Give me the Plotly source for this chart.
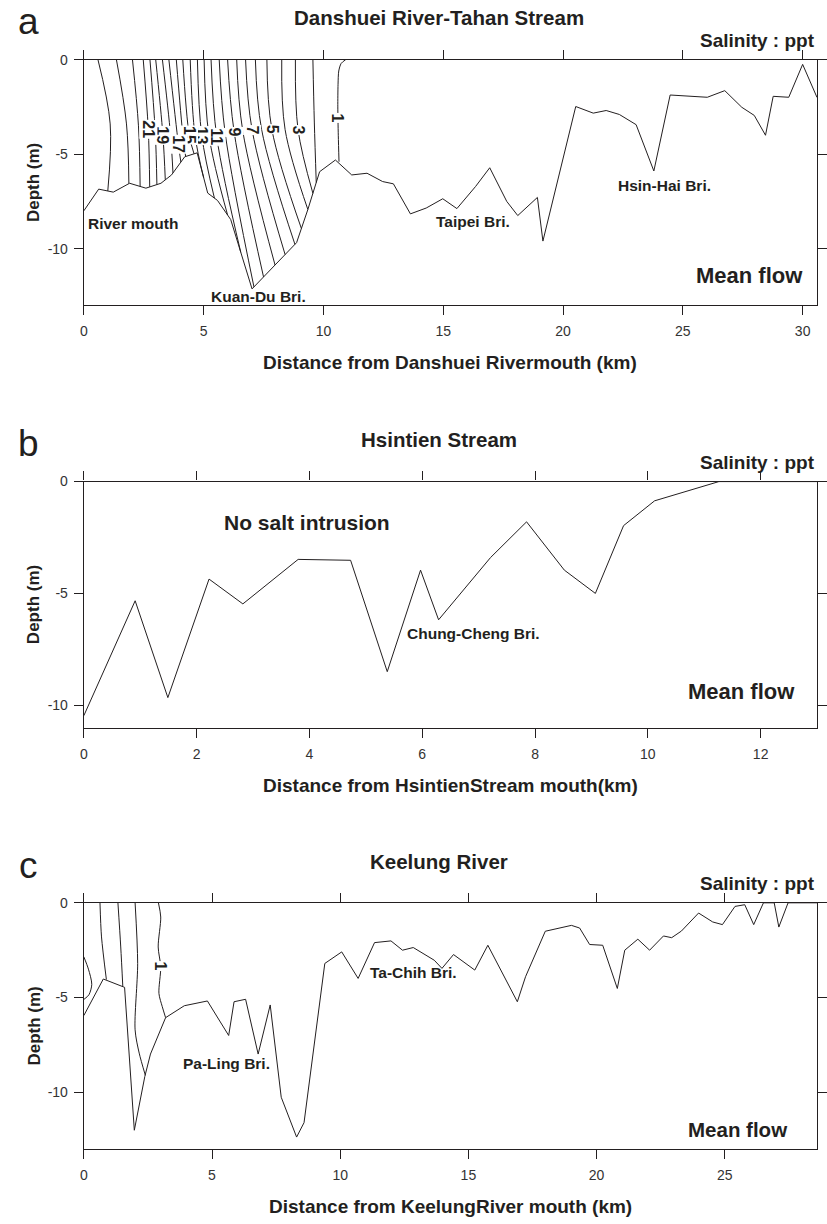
import numpy as np
import plotly.graph_objects as go

FIG_W, FIG_H = 827, 1224
FONT = "Liberation Sans, Arial, sans-serif"
INK = "#231f20"

# ---------------- Panel a: Danshuei River-Tahan Stream ----------------
A_BED_KM = [0.0, 0.62, 1.23, 1.91, 2.59, 3.22, 3.66, 4.21, 4.73, 5.17,
            5.58, 6.13, 7.02, 8.88, 9.35, 9.84, 10.50, 11.18, 11.82, 12.47,
            12.92, 13.47, 13.63, 14.29, 14.98, 15.57, 16.35, 16.94, 17.65, 18.11,
            18.93, 19.16, 20.53, 21.26, 21.80, 22.35, 23.05, 23.79, 24.47, 26.02,
            26.75, 27.46, 27.98, 28.45, 28.77, 29.42, 30.0, 30.6]
A_BED_DEPTH = [-8.0, -6.85, -7.01, -6.54, -6.80, -6.54, -6.10, -5.14, -4.93, -7.06,
               -7.45, -8.46, -12.13, -9.68, -7.93, -5.93, -5.31, -6.10, -6.01, -6.45,
               -6.57, -7.76, -8.16, -7.85, -7.36, -7.88, -6.71, -5.72, -7.50, -8.25,
               -7.29, -9.60, -2.48, -2.83, -2.69, -2.90, -3.44, -5.89, -1.87, -1.99,
               -1.64, -2.52, -2.95, -4.00, -1.94, -1.99, -0.25, -2.0]

# isohalines 2..24 ppt: surface crossing, one interior point, bed crossing
A_ISO_LEVEL = list(range(2, 25))
A_ISO_TOP_KM = [9.56, 8.83, 8.26, 7.64, 7.16, 6.75, 6.38, 6.00, 5.65, 5.31, 5.02, 4.74,
                4.44, 4.13, 3.86, 3.55, 3.28, 3.00, 2.76, 2.48, 2.03, 1.36, 0.59]
A_ISO_MID_KM = [9.62, 8.94, 8.40, 7.85, 7.42, 7.02, 6.63, 6.27, 5.90, 5.55, 5.22, 4.92,
                4.64, 4.40, 4.15, 3.95, 3.62, 3.30, 2.98, 2.69, 2.28, 1.78, 1.10]
A_ISO_MID_DEPTH = [-3.3, -3.7, -3.7, -3.7, -3.7, -3.7, -3.75, -3.8, -3.9, -4.1, -4.0, -4.0,
                   -4.0, -4.0, -4.2, -4.5, -4.0, -4.0, -3.8, -3.7, -3.5, -3.4, -3.4]
A_ISO_BED_KM = [9.70, 9.56, 9.35, 9.08, 8.81, 8.40, 7.98, 7.50, 7.10, 6.55, 6.00, 5.45,
                5.00, 4.60, 4.25, 4.05, 3.72, 3.40, 3.05, 2.75, 2.35, 1.88, 1.00]
# the 1 ppt isohaline (rounded near the surface)
A_ISO1_KM = [10.93, 10.74, 10.64, 10.61, 10.60, 10.62, 10.65]
A_ISO1_DEPTH = [0.0, -0.2, -0.6, -1.3, -2.5, -4.0, -5.40]

A_LABEL_TEXT = ["1", "3", "5", "7", "9", "11", "13", "15", "17", "19", "21"]
A_LABEL_KM = [10.60, 8.94, 7.85, 7.02, 6.27, 5.55, 4.92, 4.40, 3.95, 3.30, 2.69]
A_LABEL_DEPTH = [-3.1, -3.7, -3.7, -3.7, -3.8, -4.1, -4.0, -4.0, -4.5, -4.0, -3.7]

# ---------------- Panel b: Hsintien Stream ----------------
B_BED_KM = [0.0, 0.91, 1.49, 2.22, 2.82, 3.80, 4.73, 5.38, 5.97, 6.29,
            7.21, 7.85, 8.52, 9.07, 9.57, 10.12, 11.26, 13.0]
B_BED_DEPTH = [-10.47, -5.33, -9.66, -4.36, -5.47, -3.48, -3.52, -8.50, -3.96, -6.18,
               -3.40, -1.80, -3.96, -5.0, -1.97, -0.86, 0.0, 0.0]

# ---------------- Panel c: Keelung River ----------------
C_BED_KM = [0.0, 0.76, 1.59, 1.97, 2.38, 2.60, 3.19, 3.92, 4.82, 5.65,
            5.86, 6.31, 6.80, 7.27, 7.70, 8.30, 8.59, 9.40, 10.06, 10.70,
            11.34, 11.98, 12.43, 12.85, 13.67, 13.97, 14.42, 15.25, 15.76, 16.91,
            17.23, 18.0, 19.02, 19.34, 19.73, 20.24, 20.81, 21.10, 21.61, 22.07,
            22.61, 22.93, 23.31, 23.98, 24.53, 24.91, 25.40, 25.78, 26.13, 26.51,
            26.93, 27.11, 27.47, 28.6]
C_BED_DEPTH = [-5.95, -4.02, -4.46, -12.0, -9.16, -7.98, -6.06, -5.43, -5.18, -7.0,
               -5.22, -5.09, -7.98, -5.39, -10.26, -12.36, -11.6, -3.20, -2.59, -3.99,
               -2.10, -2.01, -2.50, -2.36, -3.03, -3.46, -2.73, -3.55, -2.24, -5.22,
               -3.90, -1.50, -1.19, -1.33, -2.20, -2.24, -4.52, -2.50, -1.92, -2.50,
               -1.75, -1.84, -1.49, -0.54, -1.01, -1.15, -0.19, -0.10, -1.15, 0.0,
               0.0, -1.28, 0.0, 0.0]

C_ISO1_KM = [2.91, 3.00, 2.90, 3.00, 2.93, 3.06, 3.19]
C_ISO1_DEPTH = [0.0, -0.75, -2.33, -3.38, -4.78, -5.48, -6.06]
C_ISO2_KM = [2.00, 2.10, 2.00, 2.16, 2.40]
C_ISO2_DEPTH = [0.0, -3.2, -6.7, -7.93, -9.10]
C_ISO3_KM = [1.33, 1.44, 1.52]
C_ISO3_DEPTH = [0.0, -2.33, -4.40]
C_ISO4_KM = [0.63, 0.69, 0.88]
C_ISO4_DEPTH = [0.0, -1.8, -4.05]
C_ISO5_KM = [0.0, 0.18, 0.31, 0.20, 0.0]
C_ISO5_DEPTH = [-2.85, -3.5, -4.3, -4.85, -5.10]
C_LABEL_KM, C_LABEL_DEPTH = 3.0, -3.35

# panel frames in pixels (top, bottom) and x extents
PLOT_L, PLOT_R = 81, 825
PANELS = [
    dict(top=52.0, bottom=299.3, xmax=30.6, ymin=-13, xt=list(range(0, 31, 5))),
    dict(top=476.7, bottom=724.3, xmax=13.0, ymin=-11, xt=list(range(0, 13, 2))),
    dict(top=900.7, bottom=1148.7, xmax=28.6, ymin=-13, xt=list(range(0, 26, 5))),
]
TITLES = ["Danshuei River-Tahan Stream", "Hsintien Stream", "Keelung River"]
LETTERS = ["a", "b", "c"]
XTITLES = ["Distance from Danshuei Rivermouth (km)",
           "Distance from HsintienStream mouth(km)",
           "Distance from KeelungRiver mouth (km)"]


def px(x):
    return x / FIG_W


def py(y):
    return 1 - y / FIG_H


fig = go.Figure()
line_style = dict(color=INK, width=1)

# bed profiles
for i, (bx, bd) in enumerate([(A_BED_KM, A_BED_DEPTH), (B_BED_KM, B_BED_DEPTH),
                              (C_BED_KM, C_BED_DEPTH)]):
    ax = "" if i == 0 else str(i + 1)
    fig.add_trace(go.Scatter(x=bx, y=bd, mode="lines", line=line_style,
                             xaxis="x" + ax, yaxis="y" + ax, hoverinfo="skip"))

# panel a isohalines
for lvl, t, mk, md, bk in zip(A_ISO_LEVEL, A_ISO_TOP_KM, A_ISO_MID_KM,
                              A_ISO_MID_DEPTH, A_ISO_BED_KM):
    bed = float(np.interp(bk, A_BED_KM, A_BED_DEPTH))
    fig.add_trace(go.Scatter(x=[t, mk, bk], y=[0, md, bed], mode="lines",
                             line=dict(color=INK, width=1, shape="spline", smoothing=1.0),
                             xaxis="x", yaxis="y", hoverinfo="skip", name=f"{lvl} ppt"))
fig.add_trace(go.Scatter(x=A_ISO1_KM, y=A_ISO1_DEPTH, mode="lines",
                         line=dict(color=INK, width=1, shape="spline", smoothing=0.8),
                         xaxis="x", yaxis="y", hoverinfo="skip"))

# panel c isohalines
for cx, cd in [(C_ISO1_KM, C_ISO1_DEPTH), (C_ISO2_KM, C_ISO2_DEPTH), (C_ISO3_KM, C_ISO3_DEPTH),
               (C_ISO4_KM, C_ISO4_DEPTH), (C_ISO5_KM, C_ISO5_DEPTH)]:
    fig.add_trace(go.Scatter(x=cx, y=cd, mode="lines",
                             line=dict(color=INK, width=1, shape="spline", smoothing=0.8),
                             xaxis="x3", yaxis="y3", hoverinfo="skip"))

annotations = []


def note(text, x, y, xref, yref, size, bold=True, xanchor="center", yanchor="middle",
         angle=0, bg=None, color=INK):
    t = f"<b>{text}</b>" if bold else text
    d = dict(text=t, x=x, y=y, xref=xref, yref=yref, showarrow=False,
             font=dict(family=FONT, size=size, color=color),
             xanchor=xanchor, yanchor=yanchor, textangle=angle)
    if bg:
        d.update(bgcolor=bg, borderpad=0)
    annotations.append(d)


# contour labels
for txt, lx, ld in zip(A_LABEL_TEXT, A_LABEL_KM, A_LABEL_DEPTH):
    note(txt, lx, ld, "x", "y", 16, bold=True, angle=90, bg="white")
note("1", C_LABEL_KM, C_LABEL_DEPTH, "x3", "y3", 16, bold=True, angle=90, bg="white")

layout_axes = {}
for i, p in enumerate(PANELS):
    ax = "" if i == 0 else str(i + 1)
    dom_y = [py(p["bottom"]), py(p["top"])]
    common = dict(showline=True, linecolor=INK, linewidth=1.3, mirror="ticks",
                  ticks="outside", ticklen=9, tickwidth=1.2, tickcolor=INK,
                  showgrid=False, zeroline=False,
                  tickfont=dict(family=FONT, size=14, color="#333333"))
    layout_axes["xaxis" + ax] = dict(common, domain=[px(PLOT_L), px(PLOT_R)],
                                     range=[0, p["xmax"]], tickvals=p["xt"],
                                     anchor="y" + ax, ticklabelstandoff=4)
    layout_axes["yaxis" + ax] = dict(common, domain=dom_y, range=[p["ymin"], 0],
                                     tickvals=[0, -5, -10], ticktext=["0", "-5", "-10"],
                                     anchor="x" + ax, ticklabelstandoff=3)
    top, bot = p["top"], p["bottom"]
    # panel letter and title
    note(LETTERS[i], px(25), py(top - 38), "paper", "paper", 37, bold=False)
    note(TITLES[i], px(441), py(top - 42), "paper", "paper", 20.5)
    note("Salinity : ppt", px(825), py(top - 19), "paper", "paper", 19, xanchor="right")
    note("Depth (m)", px(30), py((top + bot) / 2), "paper", "paper", 17, angle=-90)
    note(XTITLES[i], px(453), py(bot + 58), "paper", "paper", 19)

# place names and flow notes
note("River mouth", 0.08, -8.65, "x", "y", 15.5, xanchor="left")
note("Kuan-Du Bri.", 5.22, -12.55, "x", "y", 15.5, xanchor="left")
note("Taipei Bri.", 14.6, -8.55, "x", "y", 15.5, xanchor="left")
note("Hsin-Hai Bri.", 22.2, -6.68, "x", "y", 15.5, xanchor="left")
note("Mean flow", 30.1, -11.4, "x", "y", 22, xanchor="right")

note("No salt intrusion", 2.45, -1.85, "x2", "y2", 21, xanchor="left")
note("Chung-Cheng Bri.", 5.7, -6.8, "x2", "y2", 15.5, xanchor="left")
note("Mean flow", 12.65, -9.4, "x2", "y2", 22, xanchor="right")

note("Pa-Ling Bri.", 3.8, -8.5, "x3", "y3", 15.5, xanchor="left")
note("Ta-Chih Bri.", 11.1, -3.7, "x3", "y3", 15.5, xanchor="left")
note("Mean flow", 27.5, -11.95, "x3", "y3", 20.5, xanchor="right")

fig.update_layout(
    width=FIG_W, height=FIG_H, margin=dict(l=0, r=0, t=0, b=0),
    paper_bgcolor="white", plot_bgcolor="white", showlegend=False,
    font=dict(family=FONT, color=INK), annotations=annotations, **layout_axes,
)

fig.write_html("out.html")
